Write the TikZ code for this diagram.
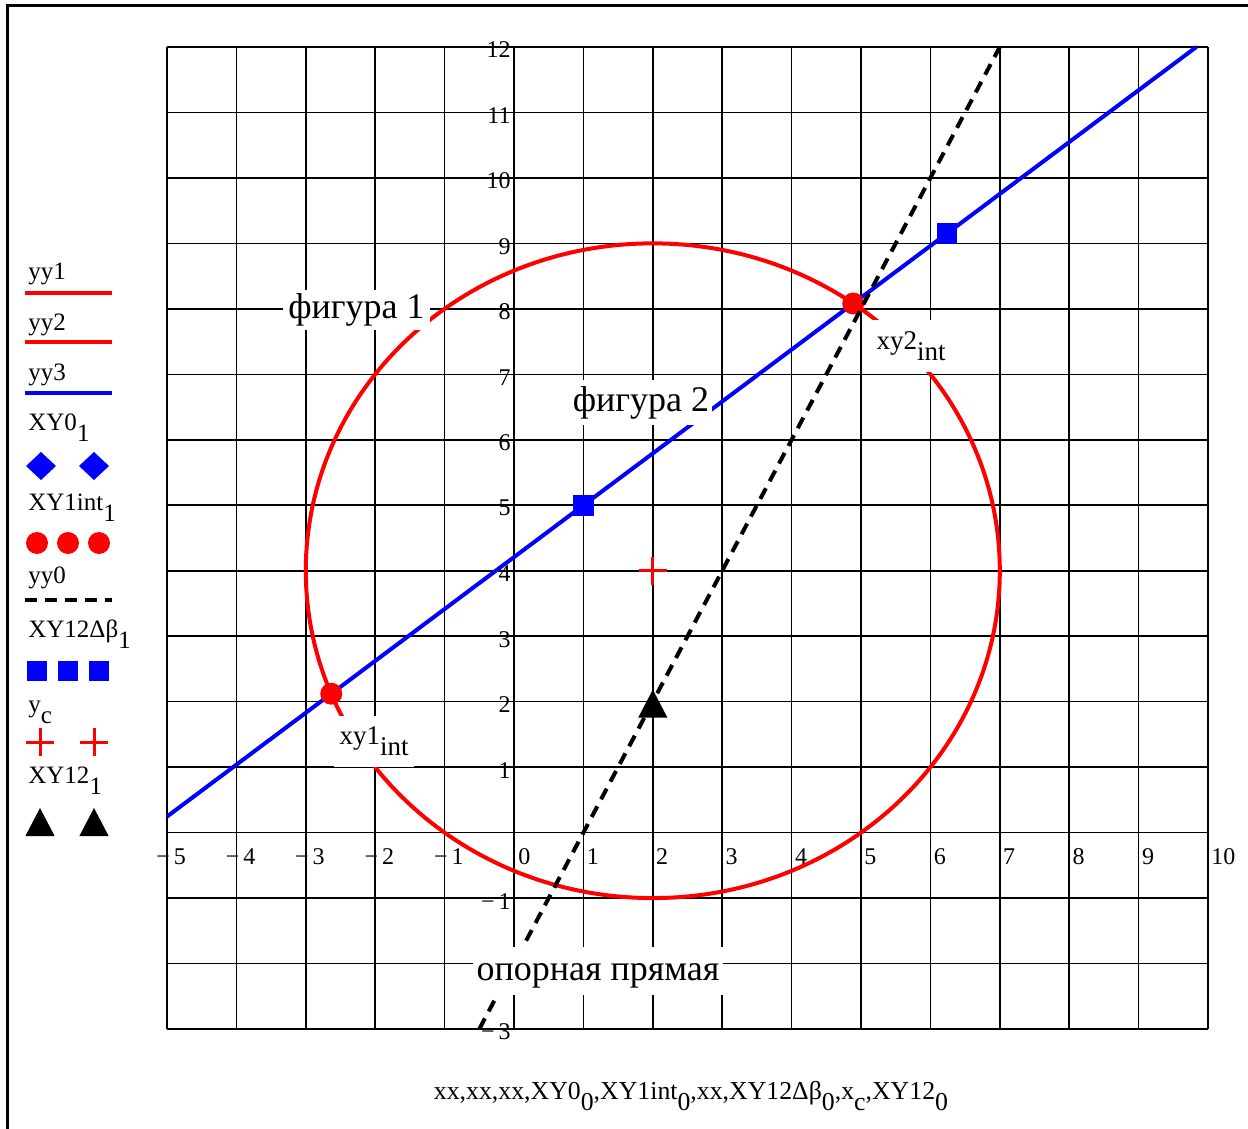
\documentclass[tikz,border=0pt]{standalone}
\usepackage{fontspec}
\setmainfont{Liberation Serif}
\newcommand{\sbs}[1]{\raisebox{-5.5pt}{#1}}
\begin{document}
\begin{tikzpicture}[x=0.5pt,y=-0.5pt,
  gridln/.style={line width=0.8pt, black},
  redc/.style={red, line width=2pt},
  bluec/.style={blue, line width=2pt},
  dashc/.style={black, line width=2pt, dash pattern=on 6pt off 4pt},
  tickl/.style={font=\fontsize{12}{12}\selectfont, inner sep=0pt},
  cover/.style={fill=white, inner sep=0pt, font=\fontsize{18}{19}\selectfont},
  coversm/.style={fill=white, inner sep=0pt, font=\fontsize{13.5}{14}\selectfont},
  legt/.style={font=\fontsize{12.5}{13}\selectfont, inner sep=0pt, anchor=base west},
  pics/mdot/.style={code={\fill[red] (0,0) circle (5.5pt);}},
  pics/msq/.style={code={\fill[blue] (-5.2pt,-5.2pt) rectangle (5.2pt,5.2pt);}},
  pics/mdiam/.style={code={\fill[blue] (-7.5pt,0) -- (0,7pt) -- (7.5pt,0) -- (0,-7pt) -- cycle;}},
  pics/mtri/.style={code={\fill[black] (-7.3pt,-7pt) -- (7.3pt,-7pt) -- (0,7pt) -- cycle;}},
  pics/mcross/.style={code={\draw[red, line width=#1] (-7pt,0) -- (7pt,0) (0,-7pt) -- (0,7pt);}},
]
\useasboundingbox (0,0) rectangle (1248,1129);
\draw[line width=1.5pt] (7,1129) -- (7,6) -- (1248,6);

% ---------- plot ----------
\begin{scope}[shift={(514,832.6)}, x=34.7pt, y=32.735pt]
  \draw[gridln, xstep=1, ystep=1] (-5,-3) grid (10,12);
  % x tick labels
  \node[tickl, anchor=west] (tx0) at ([xshift=2pt]0,-0.37) {0};
  \foreach \v in {1,...,10}
    \node[tickl, anchor=west] (tx\v) at ([xshift=1.5pt]\v,-0.37) {\v};
  \foreach \v in {1,...,5}
    \node[tickl, anchor=west] (txm\v) at ([xshift=-5.5pt]-\v,-0.37) {−\,\v};
  % y tick labels
  \foreach \v in {1,...,12}
    \node[tickl, anchor=east] (ty\v) at ([xshift=-1.5pt,yshift=-1.5pt]0,\v) {\v};
  \node[tickl, anchor=east] (tym1) at ([xshift=-1.5pt,yshift=-1.5pt]0,-1) {−\,1};
  \node[tickl, anchor=east] (tym3) at ([xshift=-1.5pt,yshift=-1.5pt]0,-3) {−\,3};

  % curves
  \coordinate (C) at (2,4);
  \draw[redc] (C) circle [x radius=5, y radius=5];
  \coordinate (B0) at (-5,0.245);
  \coordinate (B1) at (9.833,12);
  \draw[bluec] (B0) -- (B1);
  \coordinate (P1) at (-2.633,2.121);
  \coordinate (P2) at (4.888,8.081);
  \pic at (P1) {mdot};
  \pic at (P2) {mdot};
  \coordinate (D0) at (-0.5,-3);
  \coordinate (D1) at (7,12);
  \draw[dashc] (D0) -- (D1);
  \coordinate (Q1) at (1,5);
  \coordinate (Q2) at (6.24,9.15);
  \pic at (Q1) {msq};
  \pic at (Q2) {msq};
  \pic at (C) {mcross=1.6pt};
  \coordinate (T) at (2,1.97);
  \pic at (T) {mtri};
\end{scope}

% ---------- labels on traces (opaque) ----------
\node[cover, minimum width=73.5pt, minimum height=20pt] (f1) at (356.5,310) {фигура 1};
\node[cover, minimum width=71pt, minimum height=22.5pt] (f2) at (641,402.5) {фигура 2};
\node[coversm, minimum width=40pt, minimum height=26pt] (x2) at (911,346) {xy2\sbs{int}};
\node[coversm, minimum width=40pt, minimum height=25.5pt] (x1) at (374,741.5) {xy1\sbs{int}};
\node[cover, minimum width=125pt, minimum height=24pt, text height=13pt, text depth=4pt] (op) at (598,971) {опорная прямая};

% ---------- legend ----------
\node[legt] (l1) at (28,279) {yy1};
\coordinate (a1) at (25,293); \coordinate (b1) at (112,293);
\draw[redc] (a1) -- (b1);
\node[legt] (l2) at (28,330) {yy2};
\coordinate (a2) at (25,342); \coordinate (b2) at (112,342);
\draw[redc] (a2) -- (b2);
\node[legt] (l3) at (28,380) {yy3};
\coordinate (a3) at (25,393); \coordinate (b3) at (112,393);
\draw[bluec] (a3) -- (b3);
\node[legt] (l4) at (28,430) {XY0\sbs{1}};
\pic at (41,466) {mdiam};
\pic at (94,466) {mdiam};
\node[legt] (l5) at (28,510) {XY1int\sbs{1}};
\pic at (37,543) {mdot};
\pic at (68,543) {mdot};
\pic at (99,543) {mdot};
\node[legt] (l6) at (28,583) {yy0};
\coordinate (a6) at (25,600); \coordinate (b6) at (112,600);
\draw[dashc] (a6) -- (b6);
\node[legt] (l7) at (28,637) {XY12Δβ\sbs{1}};
\pic at (37,671) {msq};
\pic at (68,671) {msq};
\pic at (99,671) {msq};
\node[legt] (l8) at (28,712) {y\sbs{c}};
\pic at (40,742) {mcross=1.5pt};
\pic at (94,742) {mcross=1.5pt};
\node[legt] (l9) at (28,783) {XY12\sbs{1}};
\pic at (40,822) {mtri};
\pic at (94,822) {mtri};

% ---------- axis caption ----------
\node[anchor=base, inner sep=0pt, font=\fontsize{12.9}{13}\selectfont] (bx) at (691,1099)
  {xx,xx,xx,XY0\sbs{0},XY1int\sbs{0},xx,XY12Δβ\sbs{0},x\sbs{c},XY12\sbs{0}};
\end{tikzpicture}
\end{document}
